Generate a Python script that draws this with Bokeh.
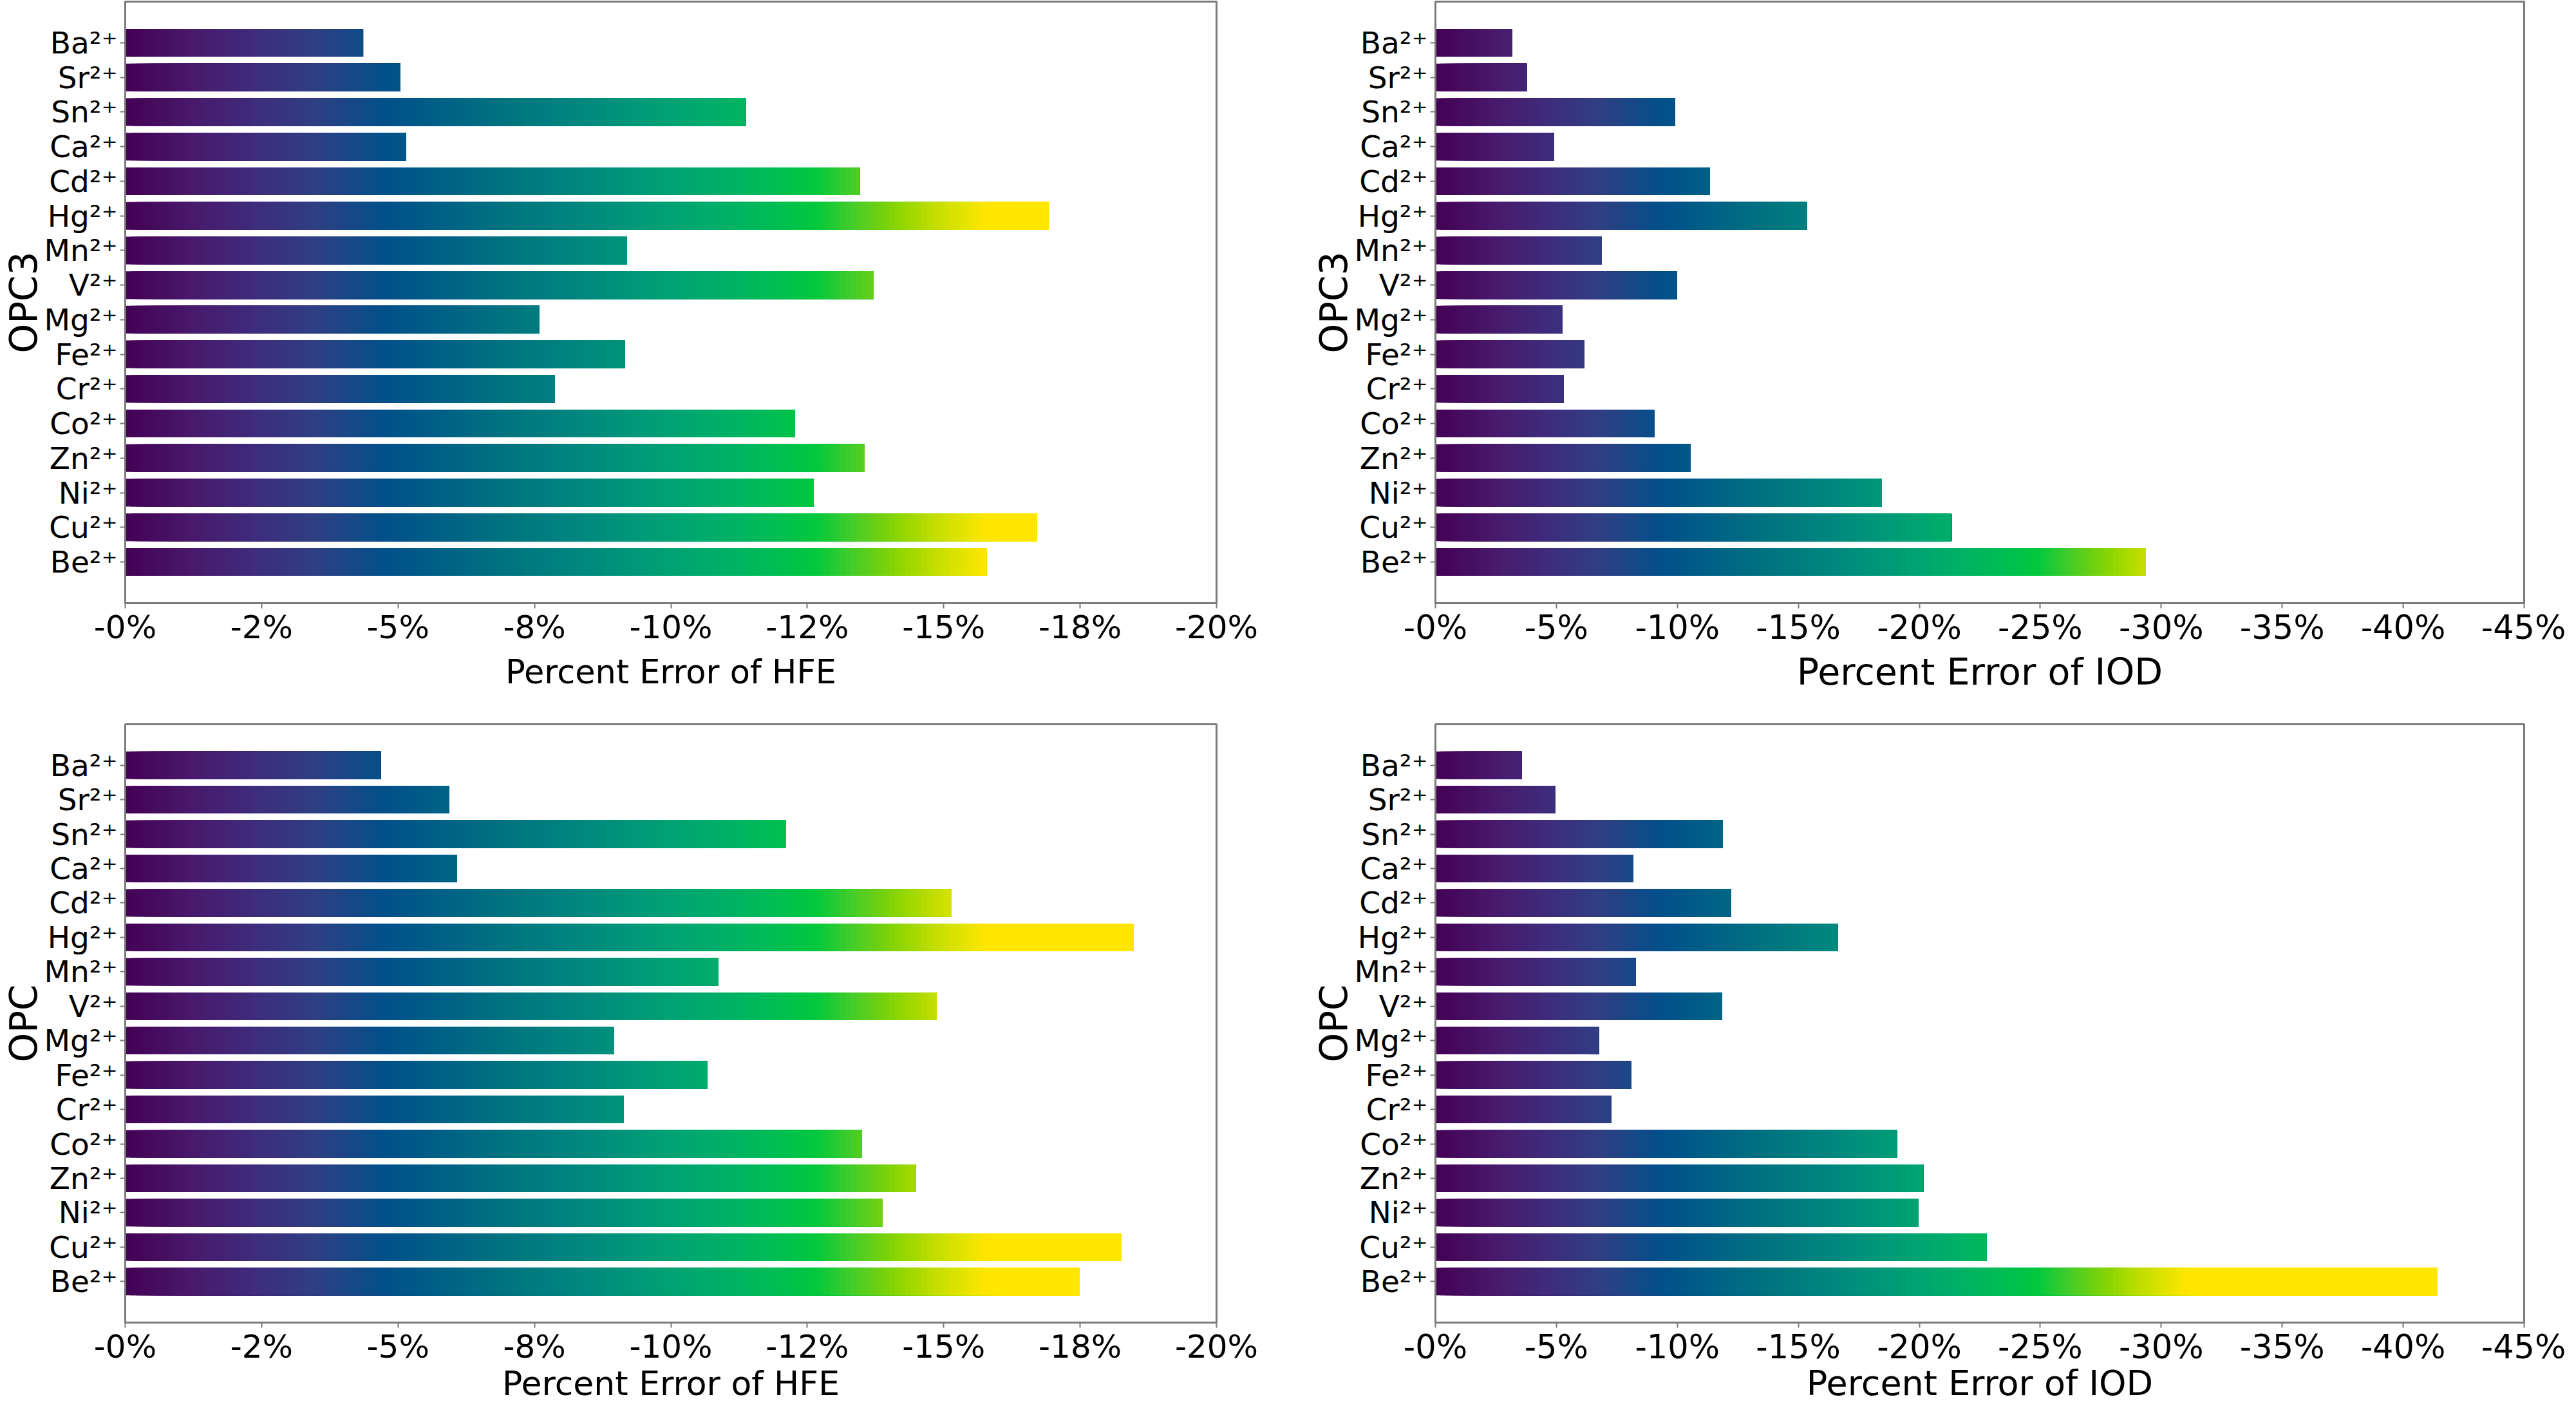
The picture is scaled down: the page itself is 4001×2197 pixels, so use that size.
import numpy as np
from bokeh.plotting import figure
from bokeh.models import FixedTicker, ColumnDataSource, Range1d
from bokeh.layouts import column, row
from bokeh.embed import file_html
from bokeh.resources import INLINE

# ---------------- data ----------------
ions = ["Ba", "Sr", "Sn", "Ca", "Cd", "Hg", "Mn", "V", "Mg", "Fe", "Cr", "Co", "Zn", "Ni", "Cu", "Be"]
ion_labels = [name + "²⁺" for name in ions]

# percent error magnitudes (axis shows them as negative percentages)
opc3_hfe = [4.36, 5.04, 11.37, 5.15, 13.46, 16.92, 9.19, 13.71, 7.59, 9.16, 7.87, 12.27, 13.55, 12.61, 16.71, 15.79]
opc3_iod = [3.16, 3.77, 9.91, 4.89, 11.34, 15.35, 6.86, 9.97, 5.25, 6.14, 5.29, 9.05, 10.54, 18.45, 21.33, 29.36]
opc_hfe = [4.68, 5.94, 12.11, 6.08, 15.14, 18.48, 10.87, 14.87, 8.95, 10.67, 9.13, 13.50, 14.49, 13.88, 18.25, 17.49]
opc_iod = [3.56, 4.96, 11.88, 8.18, 12.22, 16.63, 8.28, 11.85, 6.75, 8.08, 7.26, 19.07, 20.16, 19.96, 22.77, 41.41]

hfe_ticks = [0, 2.5, 5, 7.5, 10, 12.5, 15, 17.5, 20]
hfe_tick_labels = ["-0%", "-2%", "-5%", "-8%", "-10%", "-12%", "-15%", "-18%", "-20%"]
iod_ticks = [0, 5, 10, 15, 20, 25, 30, 35, 40, 45]
iod_tick_labels = ["-0%", "-5%", "-10%", "-15%", "-20%", "-25%", "-30%", "-35%", "-40%", "-45%"]

# ---------------- styling ----------------
STOPS = [(0.00, "#440154"), (0.08, "#481a6c"), (0.15, "#3e2c7c"), (0.22, "#2f3f83"),
         (0.30, "#02508a"), (0.37, "#006186"), (0.44, "#00737f"), (0.52, "#00857f"),
         (0.60, "#009a78"), (0.69, "#00af68"), (0.75, "#00bc55"), (0.80, "#00c83c"),
         (0.84, "#40cc2c"), (0.875, "#70d010"), (0.90, "#90d600"), (0.93, "#b8dc00"),
         (0.96, "#d8e200"), (1.00, "#ffe600")]
_sf = np.array([s[0] for s in STOPS])
_sc = np.array([[int(c[1:3], 16), int(c[3:5], 16), int(c[5:7], 16)] for _, c in STOPS], dtype=float)


def cmap(f):
    f = min(max(f, 0.0), 1.0)
    rgb = [np.interp(f, _sf, _sc[:, k]) for k in range(3)]
    return "#%02x%02x%02x" % tuple(int(round(v)) for v in rgb)


FONT = "DejaVu Sans"
SPINE = "#7a7a7a"
Y0, Y1 = -1.19, 16.19


def panel(values, xmax, ticks, tick_labels, xlabel, ylabel, gmax, step,
          width, height, bl, br, bt, bb, xtick_size, xlabel_size, xlabel_standoff,
          label_line_height=1.2):
    p = figure(width=width, height=height, output_backend="svg", toolbar_location=None,
               x_range=Range1d(0, xmax), y_range=Range1d(Y0, Y1),
               min_border_left=bl, min_border_right=br, min_border_top=bt, min_border_bottom=bb)
    n = len(values)
    lefts, rights, bots, tops, cols = [], [], [], [], []
    for i, v in enumerate(values):
        y = n - 1 - i
        for left in np.arange(0.0, v, step):
            lefts.append(left)
            rights.append(v)
            bots.append(y - 0.4)
            tops.append(y + 0.4)
            cols.append(cmap((left + step / 2) / gmax))
    src = ColumnDataSource(dict(left=lefts, right=rights, bottom=bots, top=tops, color=cols))
    p.quad(left="left", right="right", bottom="bottom", top="top", fill_color="color",
           line_color=None, source=src)

    p.xgrid.visible = False
    p.ygrid.visible = False
    p.outline_line_color = SPINE
    p.outline_line_width = 3
    p.background_fill_color = "white"
    p.border_fill_color = "white"

    p.xaxis.ticker = FixedTicker(ticks=ticks)
    p.xaxis.major_label_overrides = {t: l for t, l in zip(ticks, tick_labels)}
    p.yaxis.ticker = FixedTicker(ticks=list(range(n)))
    p.yaxis.major_label_overrides = {n - 1 - i: l for i, l in enumerate(ion_labels)}
    p.xaxis.axis_label = xlabel
    p.yaxis.axis_label = ylabel

    for ax in (p.xaxis[0], p.yaxis[0]):
        ax.axis_line_color = SPINE
        ax.axis_line_width = 3
        ax.major_tick_line_color = SPINE
        ax.major_tick_line_width = 2
        ax.major_tick_out = 8
        ax.major_tick_in = 0
        ax.minor_tick_out = 0
        ax.minor_tick_in = 0
        ax.major_label_text_font = FONT
        ax.major_label_text_color = "black"
        ax.axis_label_text_font = FONT
        ax.axis_label_text_font_style = "normal"
        ax.axis_label_text_color = "black"
    p.xaxis.major_label_text_font_size = "%dpx" % xtick_size
    p.xaxis.major_label_standoff = 0
    p.xaxis.axis_label_text_font_size = "%dpx" % xlabel_size
    p.xaxis.axis_label_standoff = xlabel_standoff
    p.xaxis.axis_label_text_line_height = label_line_height
    p.yaxis.major_label_text_font_size = "47px"
    p.yaxis.major_label_standoff = 4
    p.yaxis.axis_label_text_font_size = "58px"
    p.yaxis.axis_label_standoff = -6
    return p


p1 = panel(opc3_hfe, 20, hfe_ticks, hfe_tick_labels, "Percent Error of HFE", "OPC3",
           15.8, 0.1, 1969, 1096, 194, 80, 2, 160, 50, 51, 8)
p2 = panel(opc3_iod, 45, iod_ticks, iod_tick_labels, "Percent Error of IOD", "OPC3",
           31.1, 0.2, 2016, 1096, 260, 65, 2, 160, 51, 57, 3)
p3 = panel(opc_hfe, 20, hfe_ticks, hfe_tick_labels, "Percent Error of HFE", "OPC",
           15.8, 0.1, 1969, 1085, 194, 80, 28, 114, 50, 52, -5, 0.7)
p4 = panel(opc_iod, 45, iod_ticks, iod_tick_labels, "Percent Error of IOD", "OPC",
           31.1, 0.2, 2016, 1085, 260, 65, 28, 114, 51, 54, -8, 0.7)

layout = column(row(p1, p2), row(p3, p4))
open("out.html", "w").write(file_html(layout, INLINE))
